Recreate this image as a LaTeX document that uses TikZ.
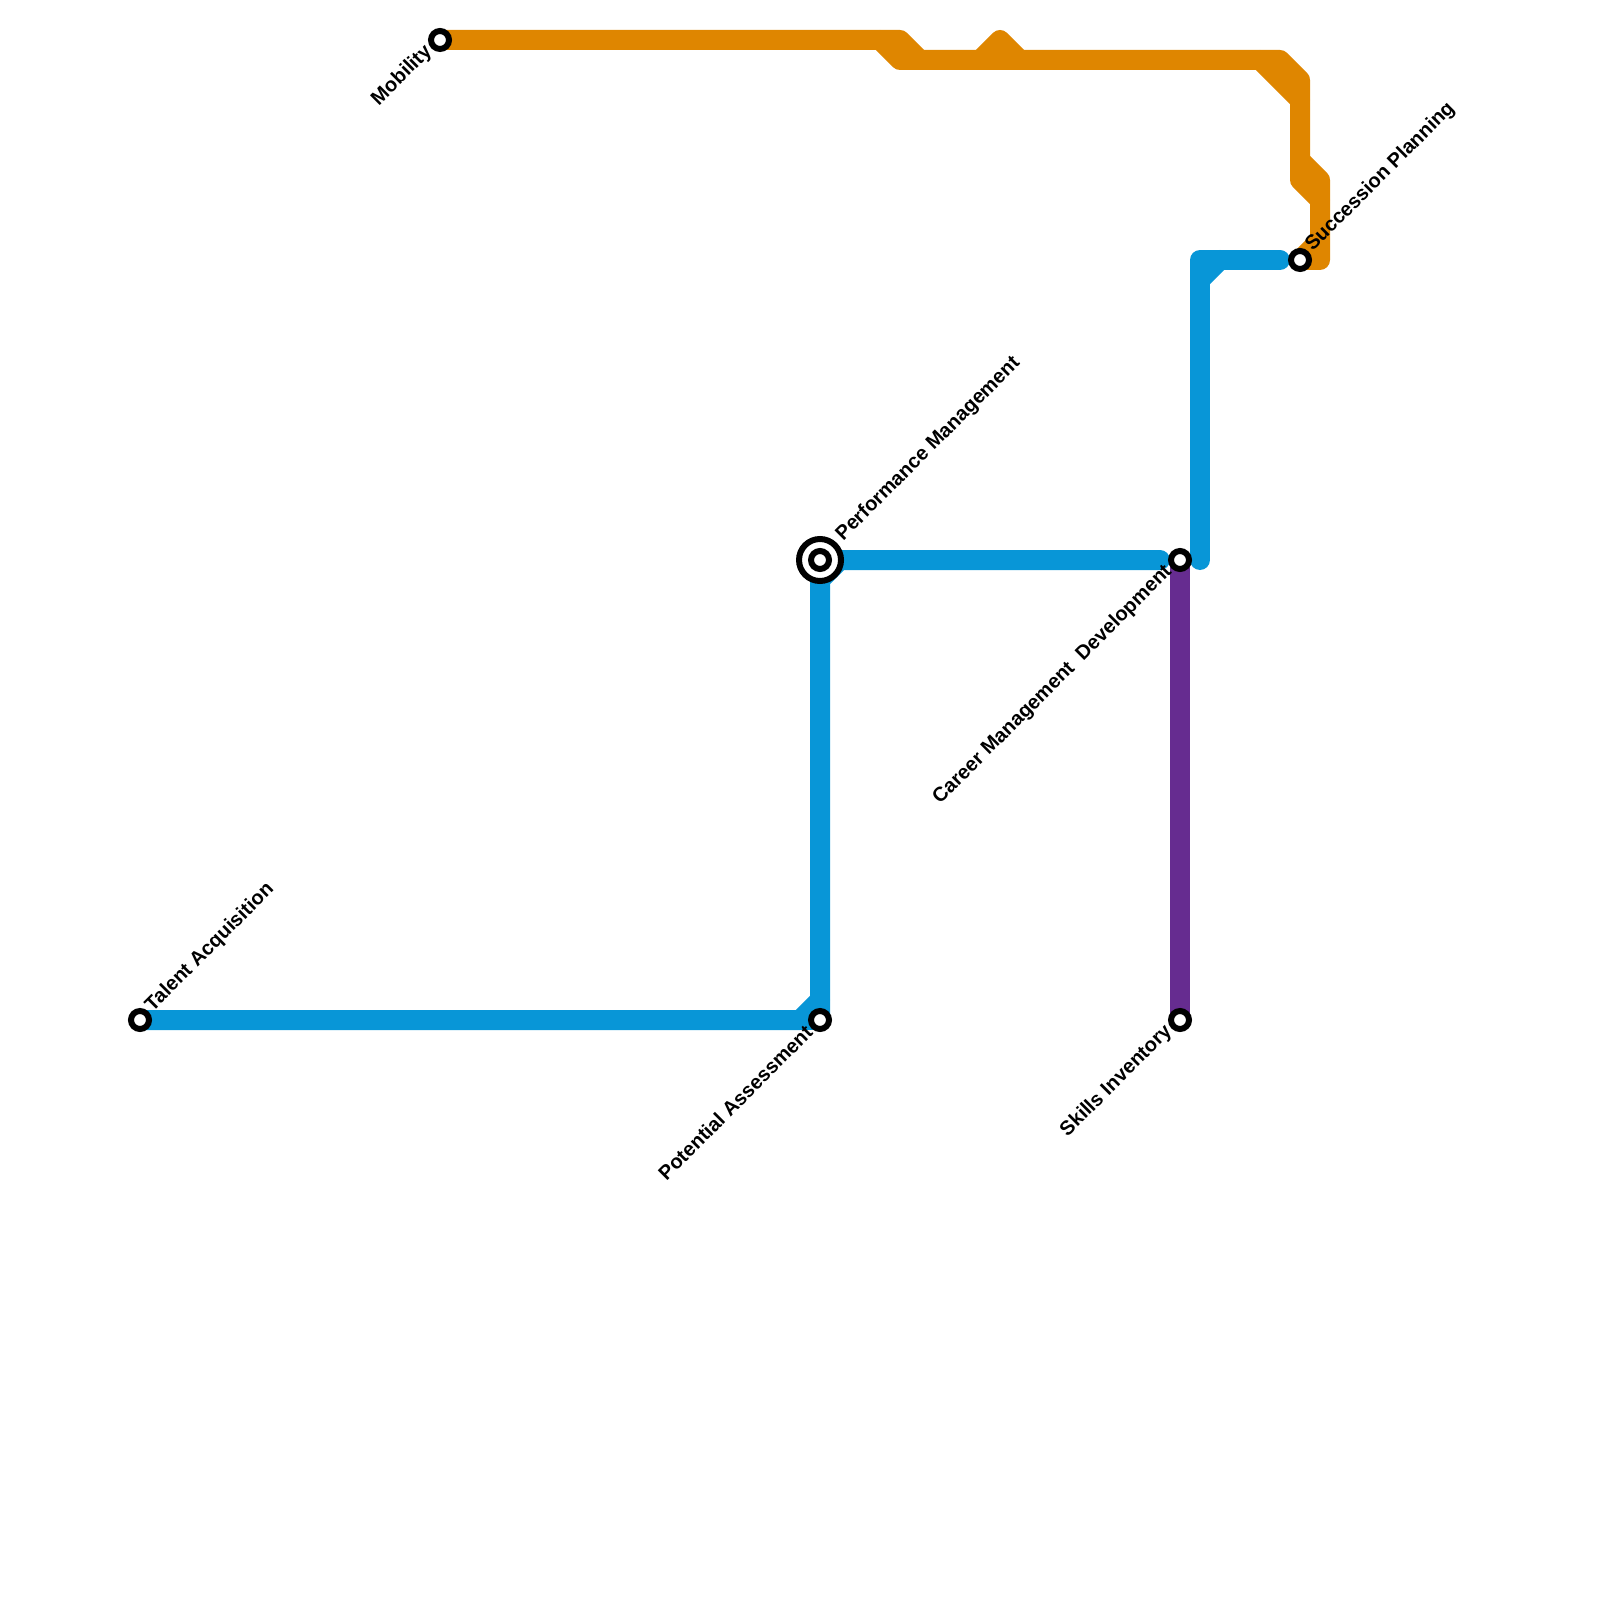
\documentclass[tikz,border=0pt]{standalone}
\usepackage{fontspec}
\setmainfont{Liberation Sans}
\usetikzlibrary{backgrounds}

\definecolor{lineblue}{HTML}{0896D7}
\definecolor{lineorange}{HTML}{DF8600}
\definecolor{linepurple}{HTML}{662C90}

\begin{document}
\begin{tikzpicture}[
      x=1cm, y=-1cm,
      route/.style={line width=0.2cm, line cap=round, line join=round},
      blueroute/.style={route, lineblue},
      orangeroute/.style={route, lineorange},
      purpleroute/.style={route, linepurple},
      station/.style={draw=black, fill=white, circle, line width=0.06cm, minimum size=0.18cm, inner sep=0pt},
      interchange/.style={draw=black, fill=white, circle, line width=0.06cm, minimum size=0.42cm, inner sep=0pt},
      lblup/.style={rotate=45, anchor=west, inner sep=0pt, font=\bfseries\fontsize{5.7}{7}\selectfont, xshift=0.14cm, yshift=0.018cm},
      lbldown/.style={rotate=45, anchor=east, inner sep=0pt, font=\bfseries\fontsize{5.7}{7}\selectfont, xshift=-0.135cm, yshift=0.017cm}
    ]
      \useasboundingbox (0,0) rectangle (16,16);

      \node[station] (talent) at (1.4,10.2) {};
      \node[station] (potential) at (8.2,10.2) {};
      \node[interchange] (perfring) at (8.2,5.6) {};
      \node[station] (performance) at (8.2,5.6) {};
      \node[station] (career) at (11.8,5.6) {};
      \node[station] (skills) at (11.8,10.2) {};
      \node[station] (mobility) at (4.4,0.4) {};
      \node[station] (succession) at (13,2.6) {};

      % blue bends
      \coordinate (b1) at (8,10.2);
      \coordinate (b2) at (8.2,10);
      \coordinate (b3) at (8.2,5.8);
      \coordinate (b4) at (8.4,5.6);
      \coordinate (b5) at (11.6,5.6);
      \coordinate (b6) at (12,5.6);
      \coordinate (b7) at (12,2.6);
      \coordinate (b8) at (12.8,2.6);
      \coordinate (b9) at (12,2.8);
      \coordinate (b10) at (12.2,2.6);

      % orange bends
      \coordinate (o1) at (9,0.4);
      \coordinate (o2) at (9.2,0.6);
      \coordinate (o3) at (8.8,0.4);
      \coordinate (o4) at (9,0.6);
      \coordinate (o5) at (12.8,0.6);
      \coordinate (o6) at (13,0.8);
      \coordinate (o7) at (13,1.8);
      \coordinate (o8) at (13.2,2);
      \coordinate (o9) at (9.8,0.6);
      \coordinate (o10) at (10,0.4);
      \coordinate (o11) at (10.2,0.6);
      \coordinate (o12) at (12.6,0.6);
      \coordinate (o13) at (13,1);
      \coordinate (o14) at (13,1.6);
      \coordinate (o15) at (13.2,1.8);
      \coordinate (o16) at (13.2,2.6);
      \coordinate (o17) at (13.2,2.4);

      \begin{pgfonlayer}{background}
        \draw[orangeroute] (mobility.center) -- (o1) -- (o2);
        \draw[orangeroute] (o3) -- (o4) -- (o5) -- (o6) -- (o7) -- (o8);
        \draw[orangeroute] (o9) -- (o10) -- (o11);
        \draw[orangeroute] (o12) -- (o13);
        \draw[orangeroute] (o14) -- (o15) -- (o16) -- (succession.center) -- (o17);

        \draw[purpleroute] (career.center) -- (skills.center);

        \draw[blueroute] (talent.center) -- (b1) -- (b2) -- (potential.center);
        \draw[blueroute] (b1) -- (potential.center);
        \draw[blueroute] (b2) -- (b3) -- (b4) -- (b5);
        \draw[blueroute] (b3) -- (performance.center);
        \draw[blueroute] (b6) -- (b7) -- (b8);
        \draw[blueroute] (b9) -- (b10);
      \end{pgfonlayer}

      \node[lblup] (talentlbl) at (talent) {Talent Acquisition};
      \node[lblup, xshift=0.15cm] (performancelbl) at (performance) {Performance Management};
      \node[lblup] (successionlbl) at (succession) {Succession Planning};
      \node[lbldown] (mobilitylbl) at (mobility) {Mobility};
      \node[lbldown] (potentiallbl) at (potential) {Potential Assessment};
      \node[lbldown] (careerlbl) at (career) {Career Management\ \ Development};
      \node[lbldown] (skillslbl) at (skills) {Skills Inventory};
    \end{tikzpicture}
\end{document}
